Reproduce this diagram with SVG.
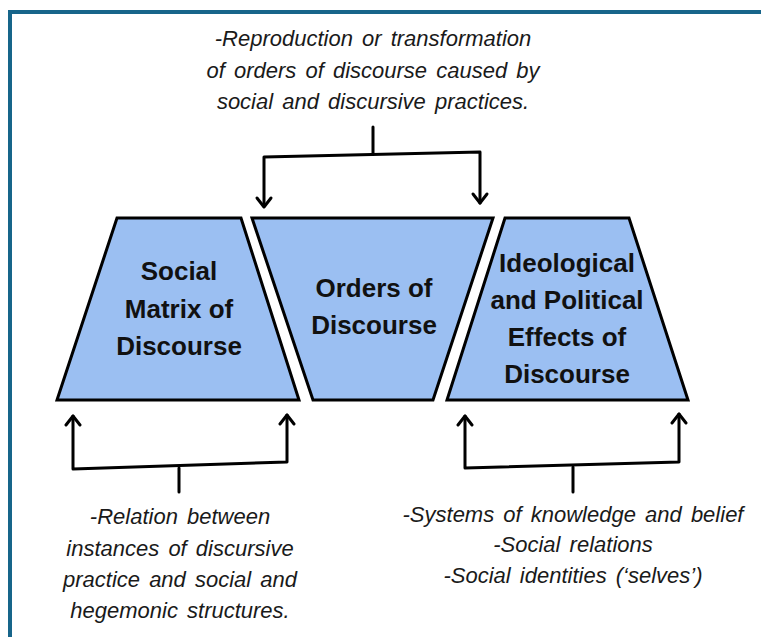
<svg xmlns="http://www.w3.org/2000/svg" width="761" height="637" viewBox="0 0 761 637">
<style>
.frame{fill:none;stroke:#17658A;stroke-width:4}
.node{fill:#9BBFF2;stroke:#000;stroke-width:3;stroke-linejoin:miter}
.lbl{font-family:"Liberation Sans",Arial,sans-serif;font-weight:bold;font-size:26px;fill:#111;text-anchor:middle}
.note{font-family:"Liberation Sans",Arial,sans-serif;font-style:italic;font-size:22px;fill:#1a1a1a;text-anchor:middle;word-spacing:3px}
.con{fill:none;stroke:#000;stroke-width:3;stroke-linecap:round;stroke-linejoin:round}
</style>
<rect width="761" height="637" fill="#fff"/>
<path class="frame" d="M10,640 V12 H765"/>
<g id="note-top">
<text class="note" x="373" y="46">-Reproduction or transformation</text>
<text class="note" x="373" y="78">of orders of discourse caused by</text>
<text class="note" x="373" y="109">social and discursive practices.</text>
</g>
<g id="node-social">
<polygon class="node" points="117,218 241,218 299,400 57,400"/>
<text class="lbl" x="179" y="280">Social</text>
<text class="lbl" x="179" y="318">Matrix of</text>
<text class="lbl" x="179" y="355">Discourse</text>
</g>
<g id="node-orders">
<polygon class="node" points="252,218 493,218 433,400 313,400"/>
<text class="lbl" x="374" y="297">Orders of</text>
<text class="lbl" x="374" y="334">Discourse</text>
</g>
<g id="node-effects">
<polygon class="node" points="505,218 629,218 688,400 447,400"/>
<text class="lbl" x="567" y="272">Ideological</text>
<text class="lbl" x="567" y="309">and Political</text>
<text class="lbl" x="567" y="346">Effects of</text>
<text class="lbl" x="567" y="383">Discourse</text>
</g>
<g id="note-left">
<text class="note" x="180" y="524">-Relation between</text>
<text class="note" x="180" y="556">instances of discursive</text>
<text class="note" x="180" y="587">practice and social and</text>
<text class="note" x="180" y="618">hegemonic structures.</text>
</g>
<g id="note-right">
<text class="note" x="573" y="522">-Systems of knowledge and belief</text>
<text class="note" x="573" y="552">-Social relations</text>
<text class="note" x="573" y="583">-Social identities (‘selves’)</text>
</g>
<g id="connectors">
<path class="con" d="M373,127 V154"/>
<path class="con" d="M264,206 V157 L480,152 V203"/>
<path class="con" d="M257,198 L264,207 L271,198 M473,194 L480,203 L487,194"/>
<path class="con" d="M73,416 V469 L287,462 V415"/>
<path class="con" d="M179,468 V492"/>
<path class="con" d="M66,425 L73,416 L80,425 M280,424 L287,415 L294,424"/>
<path class="con" d="M465,416 V468 L679,462 V414"/>
<path class="con" d="M573,467 V492"/>
<path class="con" d="M458,425 L465,416 L472,425 M672,423 L679,414 L686,423"/>
</g>
</svg>
